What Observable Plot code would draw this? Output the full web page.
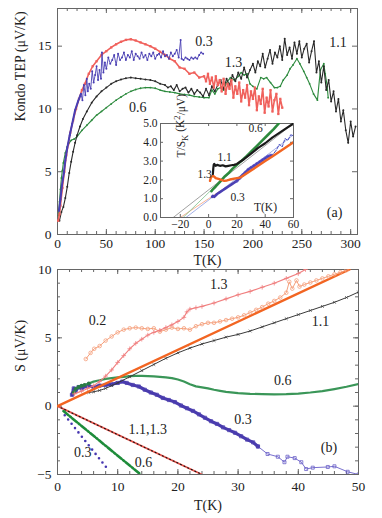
<!DOCTYPE html>
<html><head><meta charset="utf-8">
<script src="https://cdn.jsdelivr.net/npm/d3@7"></script>
<script src="https://cdn.jsdelivr.net/npm/@observablehq/plot@0.6"></script>
<style>
body{margin:0;background:#fff;}
#wrap{position:relative;width:382px;height:518px;overflow:hidden;background:#fff;}
#wrap svg, #wrap svg text{font-family:'Liberation Serif','Times New Roman',serif !important;}
</style></head><body><div id="wrap"></div>
<script>
// ---------- Panel (a): Kondo TEP vs T ----------
const tRed = [0.7,2,3,5,7,9,11,13,16,19,22,25,28,32,36,40,45,50,55,60,65,70,75,80,85,90,95,100,105,110,115,120,125,130,135,140,145,
  150,152,154,156,158,160,162,164,166,168,170,172,174,176,178,180,182,184,186,188,190,192,194,196,198,200,202,204,206,208,210,212,214,216,218,220,222,224,226,228,230];
const sRed = [1.1,1.6,2.3,3.7,5.0,6.3,7.2,8.1,9.1,10.0,10.8,11.5,12.0,12.8,13.4,13.8,14.3,14.6,14.9,15.15,15.35,15.5,15.55,15.45,15.3,15.15,15.0,14.8,14.55,14.3,14.0,13.8,13.3,13.2,12.8,12.9,12.5,
  12.6,12.2,12.8,12.0,12.5,11.7,12.6,11.9,12.3,11.4,12.4,11.2,12.0,11.6,12.3,10.9,11.8,11.2,12.1,10.6,11.5,10.9,11.9,10.3,11.4,10.8,11.7,9.9,11.0,10.4,11.6,9.7,10.9,10.2,11.5,9.8,10.7,11.2,9.6,10.8,10.1];

const tBlue = [1.5,3,4.5,6.5,8,10,12.5,15,18,21,
  24,25.5,27,28.5,30,31,32.5,34,35.5,37,38.5,40,41.5,43,44.5,45.5,47,48.5,50,52,54,56,58,60,62,64,66,68,70,72,74,76,78,80,82,84,86,88,90,92,94,96,98,100,102,104,106,108,110,112,114,116,118,120,122,124,126,127,129,131,133,135,137,139,141,143,145,147,149];
const sBlue = [1.9,2.8,3.9,4.9,5.9,6.9,7.9,8.8,9.9,10.6,
  11.2,10.7,11.9,11.1,12.4,11.4,12.0,11.6,13.0,12.1,12.7,13.4,12.3,13.1,12.4,14.5,12.9,13.7,13.2,14.1,13.6,13.9,14.3,13.5,14.4,13.9,14.1,14.5,13.9,14.3,14.1,14.6,13.9,14.4,14.2,14.0,14.5,14.1,14.3,13.9,14.4,14.2,14.5,14.0,14.3,14.4,14.1,14.6,14.2,14.3,14.0,14.5,14.2,14.4,14.7,14.1,15.5,14.0,13.9,14.1,14.0,13.9,14.1,14.0,14.1,14.0,14.3,14.5,14.4];

const tBlack = [2,4,6,8,10,12,14,16,18,20,23,26,30,35,40,45,50,55,60,65,70,75,80,85,90,95,100,105,
  110,113,116,119,122,125,128,131,134,137,140,143,146,149,152,155,158,161,164,167,170,173,176,179,182,185,188,191,194,197,200,
  202.5,205,207.5,210,212.5,215,217.5,220,222.5,225,227.5,230,232.5,235,237.5,240,242.5,245,247.5,250,252.5,255,257.5,260,262.5,265,267.5,270,272.5,275,277.5,280,282.5,285,287.5,290,292.5,295,297.5,300,302.5,305];
const sBlack = [1.1,1.8,2.2,2.9,3.8,4.9,5.8,6.6,7.3,7.9,8.6,9.2,9.8,10.5,11.0,11.4,11.7,12.0,12.2,12.35,12.45,12.5,12.45,12.4,12.35,12.3,12.2,12.0,
  11.9,11.7,11.8,11.5,11.9,11.4,11.6,11.7,11.3,11.6,11.2,11.5,11.3,11.0,11.6,11.1,11.8,11.4,11.9,12.3,11.6,12.4,11.9,12.7,12.2,12.9,12.4,13.3,12.5,13.1,13.6,
  12.9,13.8,13.4,14.4,13.3,14.0,14.7,13.6,14.5,14.1,15.0,13.9,15.6,14.3,14.9,14.0,15.3,14.4,15.4,14.1,14.8,15.2,13.7,14.6,15.4,12.9,13.8,12.1,13.4,11.5,12.3,10.6,11.4,9.8,10.8,9.0,9.9,8.3,7.3,9.0,7.8,8.6];

const tGreen = [1,2,3,4,5,6,8,10,12,14,17,20,25,30,35,40,45,50,55,60,65,70,75,80,85,90,95,100,105,110,115,120,125,130,135,140,145,150,155,158,161,164,167,170,173,177,181,185,188,191,194,197,200,204,208,211,214,218,222,225,228,231,235,238,241,245,248,252,255,258,262,266,269,272.5,274,276,277];
const sGreen = [1.5,2.6,3.6,4.5,5.1,5.7,6.5,7.0,7.3,7.5,7.6,7.8,8.3,8.7,9.1,9.5,9.8,10.1,10.4,10.7,10.95,11.2,11.4,11.55,11.65,11.7,11.7,11.65,11.5,11.4,11.35,11.3,11.2,11.15,11.1,11.0,10.95,10.9,10.9,11.5,11.2,11.6,11.7,11.5,12.1,12.5,12.3,12.6,12.9,12.7,12.8,12.0,11.8,11.6,12.5,12.4,12.5,12.1,11.7,11.7,11.8,12.3,12.7,13.2,13.5,14.0,13.6,13.0,12.5,12.0,11.2,10.7,13.1,13.6,12.8,11.8,10.9];

const topXTicks = [0,50,100,150,200,250,300];
const topYTicks = [0,5,10,15];
const topLabels = ["0.3","1.3","1.1","0.6","(a)"];
const topLabelT = [150,180,287,82,283.5];
const topLabelS = [15.35,13.7,15.3,10.1,1.75];

// ---------- Inset: T/S_K vs T ----------
const tIn11 = [3,3.3,3.6,4,5,6,8,10,12,14,16,18,20,22,25,30,35,40,45,50,55,60];
const sIn11 = [2.3,2.6,2.8,2.85,2.75,2.8,2.75,2.78,2.72,2.75,2.78,2.8,2.85,2.95,3.1,3.4,3.7,3.95,4.25,4.5,4.75,5.0];
const tIn13 = [1,1.5,2.5,3.5,5,7,9,11,13,15,17,19,21,23,26,30,35,40,45,50,55,60];
const sIn13 = [1.95,2.1,2.2,2.2,2.1,2.05,2.0,1.95,1.97,2.02,2.05,2.08,2.1,2.15,2.3,2.5,2.75,3.0,3.25,3.5,3.75,4.0];
const tIn06 = [2,3,5,8,11,14,17,20,23,26,30,34,38,42,46,49.6];
const sIn06 = [1.4,1.5,1.65,1.9,2.15,2.35,2.6,2.8,3.0,3.2,3.5,3.8,4.1,4.4,4.7,5.0];
const tIn03 = [2.5,3,4,6,8,10,12,14,16,18,20,22,24,26,28,30,32,34,36,38,40,42,44];
const sIn03 = [1.1,1.15,1.1,1.25,1.35,1.45,1.55,1.65,1.75,1.85,1.95,2.1,2.25,2.4,2.55,2.65,2.75,2.85,2.95,3.05,3.15,3.25,3.3];
const tIn03b = [44,46,48,50,52,54,56,58,60];
const sIn03b = [3.3,3.4,3.6,3.9,3.75,4.2,4.1,4.4,4.35];
const fitT11 = [-25,60], fitS11 = [0,5];
const fitT13 = [-20,60], fitS13 = [0,4];
const fitT06 = [-18,50], fitS06 = [0,5];
const fitT03 = [-16,60], fitS03 = [0,4.4];
const inXTicks = [-20,0,20,40,60];
const inYTicks = [0,1,2,3,4,5];
const inLabels = ["0.6","1.1","1.3","0.3","T(K)"];
const inLabelT = [33.2,11.3,-2.8,20.5,40.2];
const inLabelS = [4.73,3.19,2.29,1.06,0.53];

// ---------- Panel (b): S vs T ----------
const fitOrT = [0,48.5], fitOrS = [0,10];
const neg13T = [0,24], neg13S = [0,-5];
const neg06T = [1,13.8], neg06S = [-0.36,-5];
const neg03T = [1.2,8.6], neg03S = [-0.66,-4.75];

const tB11 = [5.2,6,7,8,9,10,12,14,16,18,20,22,24,26,28,30,32,34,36,38,40,42,44,46,48,50];
const sB11 = [1.0,1.05,1.15,1.3,1.5,1.7,2.15,2.6,3.05,3.5,3.9,4.25,4.55,4.8,5.05,5.25,5.5,5.8,6.1,6.4,6.7,7.0,7.3,7.6,7.95,8.35];
const tB13 = [2.8,4,5,6,7,8,9,10,11,12,13,14,15,16,17,18,19,20,21,21.5,22,23,24,26,28,30,32,34,36,38,40,41.2];
const sB13 = [0.9,1.1,1.3,1.5,1.8,2.2,2.65,3.2,3.7,4.2,4.6,4.9,5.2,5.4,5.55,5.75,5.95,6.2,6.5,6.9,7.1,7.2,7.3,7.55,7.85,8.15,8.4,8.7,9.0,9.35,9.7,10.0];
const tB02 = [4.7,5.5,6.1,7,8,9,10,11,12,13,14,15,16,17,18,19,20,21,22,23,24,25,26,27,28,29,30,31,32,33,34,35,36,37,38,38.5,39,39.7,40.2,41,42,43,44,45,46,47,48];
const sB02 = [3.45,3.9,4.2,4.4,4.8,5.1,5.4,5.6,5.7,5.75,5.7,5.65,5.7,5.45,5.6,5.75,5.65,5.7,5.6,5.85,6.0,6.1,6.1,6.2,6.3,6.4,6.5,6.65,6.85,7.05,7.25,7.5,7.7,7.95,8.3,9.1,8.6,9.2,8.75,8.9,9.05,9.2,9.35,9.5,9.65,9.8,9.95];
const tB06 = [2.7,3,3.5,4,4.5,5.2,6,7,8,9,10,11,12,13,14,15,16,17,18,19,20,21,22,23,24,25,26,27,28,30,32,34,36,38,40,42,44,46,48,50];
const sB06 = [1.0,1.25,1.4,1.5,1.55,1.65,1.8,1.9,2.0,2.05,2.1,2.15,2.2,2.22,2.22,2.2,2.18,2.15,2.1,2.05,1.95,1.8,1.6,1.45,1.38,1.3,1.2,1.12,1.05,0.95,0.9,0.88,0.87,0.88,0.92,1.0,1.1,1.25,1.42,1.62];
const tB03 = [2.4,2.7,3,3.5,4,5,6,7,8,9,10,10.75,11.5,12.5,13.5,14.5,15.5,16.5,17.5,18.5,19.5,20.5,21.5,22.5,23.5,24.5,25.5,26.5,27.5,28.5,29.5,30.5,31.5,32.5,33.3];
const sB03 = [0.83,1.3,1.1,1.4,1.3,1.5,1.4,1.5,1.55,1.6,1.7,1.8,1.7,1.55,1.44,1.2,1.0,0.83,0.6,0.45,0.3,0.05,-0.15,-0.35,-0.6,-0.85,-1.1,-1.3,-1.55,-1.75,-1.95,-2.2,-2.45,-2.65,-2.95];
const tB03b = [33.3,34.9,36.6,37.7,38.2,39.4,40.5,41.3,42.4,44.9,46,48.2,50];
const sB03b = [-2.95,-3.5,-3.7,-4.1,-3.7,-3.8,-4.1,-4.6,-4.5,-4.45,-4.4,-4.8,-5.0];

const botXTicks = [0,10,20,30,40,50];
const botYTicks = [-5,0,5,10];
const botLabels = ["1.3","0.2","1.1","0.6","0.3","1.1,1.3","0.3","0.6","(b)"];
const botLabelT = [26.8,6.65,43.7,37.4,30.8,15.0,4.2,14.3,45.1];
const botLabelS = [8.9,6.3,6.2,1.9,-0.95,-1.7,-3.4,-4.1,-3.0];

// ---------- helpers ----------
const FONT = "'Liberation Serif','Times New Roman',serif";
const pts = (t, s) => t.map((x, i) => ({x, y: s[i]}));
const lab = (txt, t, s) => txt.map((text, i) => ({text, x: t[i], y: s[i]}));
const FR = "#666";
function inTicks(xv, yv, fw, fh, len) {
  const m = [];
  if (xv) m.push(Plot.ruleX(xv, {x: d => d, insetTop: fh - len, stroke: FR}),
                 Plot.ruleX(xv, {x: d => d, insetBottom: fh - len, stroke: FR}));
  if (yv) m.push(Plot.ruleY(yv, {y: d => d, insetRight: fw - len, stroke: FR}),
                 Plot.ruleY(yv, {y: d => d, insetLeft: fw - len, stroke: FR}));
  return m;
}
const css = (l, t, fs) => ({fontFamily: FONT, fontSize: fs, background: "transparent", overflow: "visible", position: "absolute", left: l, top: t, color: "#222"});
const wrapEl = document.getElementById("wrap");
const TXT = {fill: "#222", fontFamily: FONT};

// ---------- top panel ----------
const C = {red: "#f0615c", blue: "#4a3fb3", black: "#2a2a2a", green: "#2c8a3d"};
const topFW = 300, topFH = 226;
const topSvg = Plot.plot({
  width: 382, height: 260, marginLeft: 57, marginRight: 25, marginTop: 8, marginBottom: 26,
  x: {domain: [0, 307]}, y: {domain: [0, 18]},
  style: css("0px", "0px", "13.5px"),
  marks: [
    Plot.frame({stroke: FR}),
    ...inTicks(topXTicks, topYTicks, topFW, topFH, 5),
    ...inTicks(d3.range(0, 301, 10), null, topFW, topFH, 3),
    Plot.axisX({ticks: topXTicks, tickSize: 0, tickPadding: 4, label: null, fontFamily: FONT}),
    Plot.axisY({ticks: topYTicks, tickSize: 0, tickPadding: 6, label: null, fontFamily: FONT}),
    Plot.line(pts(tGreen, sGreen), {x: "x", y: "y", stroke: C.green, strokeWidth: 1.1, clip: true}),
    Plot.dot(pts(tGreen, sGreen), {x: "x", y: "y", fill: C.green, r: 0.9, clip: true}),
    Plot.line(pts(tBlack, sBlack), {x: "x", y: "y", stroke: C.black, strokeWidth: 1.1, clip: true}),
    Plot.dot(pts(tBlack, sBlack), {x: "x", y: "y", fill: C.black, r: 1, clip: true}),
    Plot.line(pts(tRed, sRed), {x: "x", y: "y", stroke: C.red, strokeWidth: 1.6, clip: true}),
    Plot.dot(pts(tRed, sRed), {x: "x", y: "y", fill: C.red, symbol: "square", r: 1.3, clip: true}),
    Plot.line(pts(tBlue, sBlue), {x: "x", y: "y", stroke: C.blue, strokeWidth: 0.9, clip: true}),
    Plot.line(pts(tBlue.slice(0, 11), sBlue.slice(0, 11)), {x: "x", y: "y", stroke: C.blue, strokeWidth: 2, clip: true}),
    Plot.dot(pts(tBlue, sBlue), {x: "x", y: "y", fill: C.blue, r: 1, clip: true}),
    Plot.text(lab(topLabels, topLabelT, topLabelS), {x: "x", y: "y", text: "text", fontSize: 14, ...TXT}),
    Plot.text(["T(K)"], {frameAnchor: "bottom", lineAnchor: "middle", dy: 26, fontSize: 14, ...TXT}),
    Plot.text(["Kondo TEP (μV/K)"], {frameAnchor: "left", rotate: -90, dx: -37, fontSize: 14, ...TXT})
  ]
});
wrapEl.appendChild(topSvg);

// ---------- inset ----------
const inFW = 133, inFH = 94;
const insetSvg = Plot.plot({
  width: 170, height: 125, marginLeft: 30, marginRight: 7, marginTop: 13, marginBottom: 18,
  x: {domain: [-34, 60]}, y: {domain: [0, 5]},
  style: css("130px", "110px", "11.5px"),
  marks: [
    Plot.frame({fill: "white", stroke: FR}),
    ...inTicks(inXTicks, inYTicks, inFW, inFH, 3),
    Plot.axisX({ticks: inXTicks, tickSize: 0, tickPadding: 2, label: null, fontFamily: FONT}),
    Plot.axisY({ticks: inYTicks, tickSize: 0, tickPadding: 3, label: null, fontFamily: FONT}),
    Plot.line(pts(fitT11, fitS11), {x: "x", y: "y", stroke: "#8a8a8a", strokeWidth: 0.8, clip: true}),
    Plot.line(pts(fitT13, fitS13), {x: "x", y: "y", stroke: "#f5a07a", strokeWidth: 0.8, clip: true}),
    Plot.line(pts(fitT06, fitS06), {x: "x", y: "y", stroke: "#7cc08a", strokeWidth: 0.8, clip: true}),
    Plot.line(pts(fitT03, fitS03), {x: "x", y: "y", stroke: "#8c9be0", strokeWidth: 0.8, clip: true}),
    Plot.line(pts(tIn03b, sIn03b), {x: "x", y: "y", stroke: "#4a4fc0", strokeWidth: 1, strokeDasharray: "3,1.5", clip: true}),
    Plot.line(pts(tIn03, sIn03), {x: "x", y: "y", stroke: "#4a3fb3", strokeWidth: 2.6, clip: true}),
    Plot.dot(pts(tIn03, sIn03).slice(10), {x: "x", y: "y", stroke: "#5a55c8", r: 1.4, strokeWidth: 0.7, clip: true}),
    Plot.line(pts(tIn06, sIn06), {x: "x", y: "y", stroke: "#2c8a3d", strokeWidth: 2.6, clip: true}),
    Plot.line(pts(tIn11, sIn11), {x: "x", y: "y", stroke: "#1a1a1a", strokeWidth: 2.2, clip: true}),
    Plot.line(pts(tIn13, sIn13), {x: "x", y: "y", stroke: "#f26522", strokeWidth: 2.4, clip: true}),
    Plot.text(lab(inLabels, inLabelT, inLabelS), {x: "x", y: "y", text: "text", fontSize: 11.5, ...TXT}),
    Plot.text(["T/S_K (K^2/μV)"], {frameAnchor: "left", rotate: -90, dx: 21, dy: -13, fontSize: 11.5, ...TXT})
  ]
});
wrapEl.appendChild(insetSvg);
d3.select(insetSvg).selectAll("text").filter(function () { return this.textContent === "T/S_K (K^2/μV)"; }).each(function () {
  const t = d3.select(this); t.text("");
  t.append("tspan").text("T/S");
  t.append("tspan").attr("dy", "0.35em").attr("font-size", "0.75em").text("K");
  t.append("tspan").attr("dy", "-0.35em").text(" (K");
  t.append("tspan").attr("dy", "-0.45em").attr("font-size", "0.75em").text("2");
  t.append("tspan").attr("dy", "0.45em").text("/μV)");
});

// ---------- bottom panel ----------
const B = {orange: "#f26522", salmon: "#f5a07c", lred: "#f07f7f", black: "#3a3a3a", green: "#3a9658", blue: "#4a3cae"};
const botFW = 301, botFH = 205;
const botSvg = Plot.plot({
  width: 382, height: 258, marginLeft: 57, marginRight: 24, marginTop: 9, marginBottom: 44,
  x: {domain: [0, 50]}, y: {domain: [-5, 10]},
  style: css("0px", "260px", "13.5px"),
  marks: [
    Plot.frame({stroke: FR}),
    ...inTicks(botXTicks, botYTicks, botFW, botFH, 5),
    ...inTicks(d3.range(0, 51, 2), d3.range(-5, 11, 1), botFW, botFH, 3),
    Plot.axisX({ticks: botXTicks, tickSize: 0, tickPadding: 7, label: null, fontFamily: FONT}),
    Plot.axisY({ticks: botYTicks, tickSize: 0, tickPadding: 6, label: null, fontFamily: FONT}),
    Plot.line(pts(neg13T, neg13S), {x: "x", y: "y", stroke: "#e8544c", strokeWidth: 1.8, clip: true}),
    Plot.line(pts(neg13T, neg13S), {x: "x", y: "y", stroke: "#111", strokeWidth: 1.1, strokeDasharray: "1,3", clip: true}),
    Plot.line(pts(neg06T, neg06S), {x: "x", y: "y", stroke: "#1e8c3a", strokeWidth: 2.6, strokeDasharray: "6,2,1.5,2", clip: true}),
    Plot.line(pts(neg03T, neg03S), {x: "x", y: "y", stroke: "#4636b0", strokeWidth: 2.6, strokeDasharray: "0,5.5", strokeLinecap: "round", clip: true}),
    Plot.line(pts(tB03b, sB03b), {x: "x", y: "y", stroke: "#6a60c8", strokeWidth: 0.9, clip: true}),
    Plot.dot(pts(tB03b, sB03b), {x: "x", y: "y", stroke: "#6a60c8", symbol: "square", r: 1.7, strokeWidth: 0.8, clip: true}),
    Plot.line(pts(tB03, sB03), {x: "x", y: "y", stroke: B.blue, strokeWidth: 3.2, clip: true}),
    Plot.dot(pts(tB03, sB03), {x: "x", y: "y", stroke: B.blue, symbol: "square", r: 1.8, strokeWidth: 0.8, clip: true}),
    Plot.line(pts(tB06, sB06), {x: "x", y: "y", stroke: B.green, strokeWidth: 2.2, clip: true}),
    Plot.dot(pts(tB06.slice(0, 6), sB06.slice(0, 6)), {x: "x", y: "y", fill: "#2a7a45", r: 2, clip: true}),
    Plot.line(pts(tB11, sB11), {x: "x", y: "y", stroke: B.black, strokeWidth: 1, clip: true}),
    Plot.dot(pts(tB11, sB11), {x: "x", y: "y", stroke: B.black, symbol: "times", r: 1.4, strokeWidth: 0.7, clip: true}),
    Plot.line(pts(fitOrT, fitOrS), {x: "x", y: "y", stroke: B.orange, strokeWidth: 2.4, clip: true}),
    Plot.line(pts(tB02, sB02), {x: "x", y: "y", stroke: B.salmon, strokeWidth: 1, clip: true}),
    Plot.dot(pts(tB02, sB02), {x: "x", y: "y", stroke: B.salmon, r: 1.8, strokeWidth: 0.8, clip: true}),
    Plot.line(pts(tB13, sB13), {x: "x", y: "y", stroke: B.lred, strokeWidth: 1.1, clip: true}),
    Plot.dot(pts(tB13, sB13), {x: "x", y: "y", stroke: B.lred, symbol: "plus", r: 1.6, strokeWidth: 0.8, clip: true}),
    Plot.text(lab(botLabels, botLabelT, botLabelS), {x: "x", y: "y", text: "text", fontSize: 14, ...TXT}),
    Plot.text(["T(K)"], {frameAnchor: "bottom", lineAnchor: "middle", dy: 31, fontSize: 14, ...TXT}),
    Plot.text(["S (μV/K)"], {frameAnchor: "left", rotate: -90, dx: -37, fontSize: 14, ...TXT})
  ]
});
wrapEl.appendChild(botSvg);
</script></body></html>
